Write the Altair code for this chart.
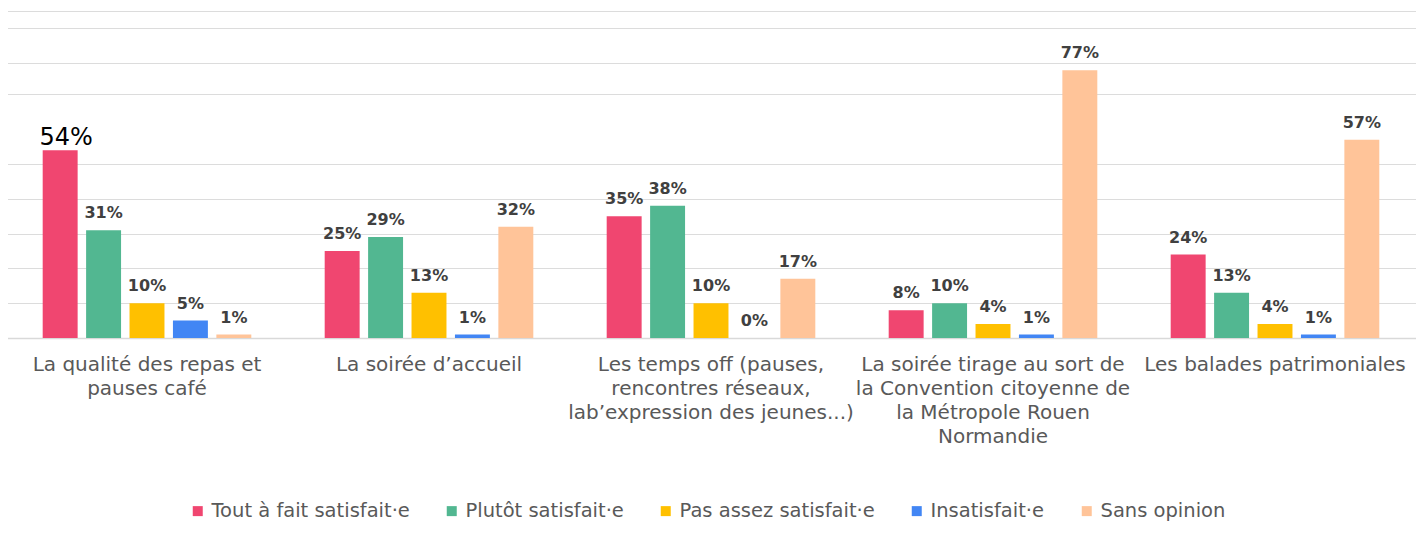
import altair as alt
import pandas as pd

categories = [
    "La qualité des repas et|pauses café",
    "La soirée d’accueil",
    "Les temps off (pauses,|rencontres réseaux,|lab’expression des jeunes...)",
    "La soirée tirage au sort de|la Convention citoyenne de|la Métropole Rouen|Normandie",
    "Les balades patrimoniales",
]
series_names = [
    "Tout à fait satisfait·e",
    "Plutôt satisfait·e",
    "Pas assez satisfait·e",
    "Insatisfait·e",
    "Sans opinion",
]
colors = ["#F04670", "#52B791", "#FFC000", "#4286F4", "#FFC499"]

tout_a_fait = [54, 25, 35, 8, 24]
plutot = [31, 29, 38, 10, 13]
pas_assez = [10, 13, 10, 4, 4]
insatisfait = [5, 1, 0, 1, 1]
sans_opinion = [1, 32, 17, 77, 57]

grid_values = [0, 10, 20, 30, 40, 50, 70, 79, 89, 94]

rows = []
for s, vals in zip(series_names, [tout_a_fait, plutot, pas_assez, insatisfait, sans_opinion]):
    for c, v in zip(categories, vals):
        rows.append({
            "cat": c,
            "series": s,
            "value": v,
            "label": f"{v}%",
            "emph": bool(c == categories[0] and s == series_names[0]),
        })
df = pd.DataFrame(rows)

font = "DejaVu Sans"

base = alt.Chart(df).encode(
    x=alt.X(
        "cat:N",
        sort=categories,
        title=None,
        scale=alt.Scale(paddingInner=0, paddingOuter=0),
        axis=alt.Axis(
            labelAngle=0,
            labelLimit=0,
            labelExpr="split(datum.label, '|')",
            labelFont=font,
            labelFontSize=20,
            labelColor="#595959",
            labelLineHeight=24,
            labelPadding=16,
            labelBaseline="top",
            ticks=False,
            domainColor="#d9d9d9",
            domainWidth=1.5,
        ),
    ),
    xOffset=alt.XOffset(
        "series:N",
        sort=series_names,
        scale=alt.Scale(paddingInner=0.195, paddingOuter=0.845),
    ),
    y=alt.Y(
        "value:Q",
        title=None,
        scale=alt.Scale(domain=[0, 94], nice=False, zero=True),
        axis=alt.Axis(
            values=grid_values,
            labels=False,
            ticks=False,
            domain=False,
            grid=True,
            gridColor="#dcdcdc",
            gridWidth=1,
        ),
    ),
)

bars = base.mark_bar().encode(
    color=alt.Color(
        "series:N",
        sort=series_names,
        scale=alt.Scale(domain=series_names, range=colors),
        legend=alt.Legend(
            title=None,
            orient="none",
            legendX=182,
            legendY=490,
            direction="horizontal",
            symbolType="square",
            symbolSize=100,
            symbolStrokeWidth=0,
            labelFont=font,
            labelFontSize=19.5,
            labelLimit=0,
            labelColor="#595959",
            labelOffset=4,
            columnPadding=32,
        ),
    )
)

labels = base.transform_filter("!datum.emph").mark_text(
    dy=-12, baseline="alphabetic", fontWeight="bold", fontSize=16,
    color="#404040", font=font,
).encode(text="label:N")

emph_labels = base.transform_filter("datum.emph").mark_text(
    dx=6, dy=-5, baseline="alphabetic", fontSize=24, color="#000000", font=font,
).encode(text="label:N")

chart = alt.layer(bars, labels, emph_labels).properties(
    width=1410,
    height=327,
    padding={"left": -2, "top": 3, "right": 0, "bottom": 0},
).configure_view(stroke=None)

chart.save("out.html", embed_options={"renderer": "svg", "actions": False})
